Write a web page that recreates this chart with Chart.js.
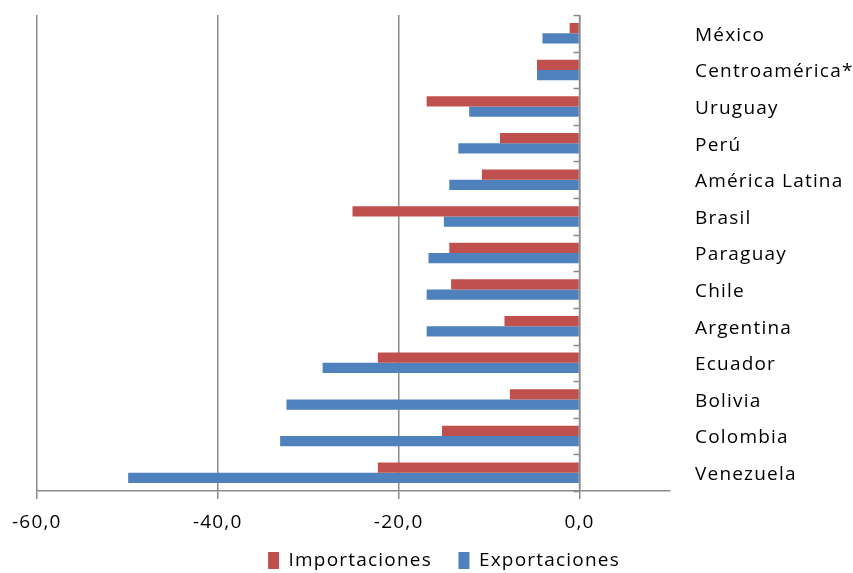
<!DOCTYPE html>
<html>
<head>
<meta charset="utf-8">
<script src="https://cdn.jsdelivr.net/npm/chart.js@4/dist/chart.umd.min.js"></script>
<style>
  html, body { margin: 0; padding: 0; background: #fff; }
  #wrap { width: 853px; height: 573px; }
</style>
</head>
<body>
<div id="wrap"><canvas id="chart" width="853" height="573"></canvas></div>
<script>
const paises = ['México', 'Centroamérica*', 'Uruguay', 'Perú', 'América Latina', 'Brasil',
    'Paraguay', 'Chile', 'Argentina', 'Ecuador', 'Bolivia', 'Colombia', 'Venezuela']
const importaciones = [-1.1, -4.7, -16.9, -8.8, -10.8, -25.1, -14.4, -14.2, -8.3, -22.3, -7.7, -15.2, -22.3]
const exportaciones = [-4.1, -4.7, -12.2, -13.4, -14.4, -15.0, -16.7, -16.9, -16.9, -28.4, -32.4, -33.1, -49.9]
const x_min = -60
const x_max = 10
const x_step = 20

const fuente = 'Open Sans'
const gris = '#8a8a8a'

// el texto del original es mas espaciado
const espaciado = {
    id: 'espaciado',
    beforeLayout(chart) { chart.ctx.letterSpacing = '1.2px' },
    beforeDraw(chart) { chart.ctx.letterSpacing = '1.2px' }
}

// eje vertical en 0 con sus marcas entre categorias
const ejeCero = {
    id: 'ejeCero',
    afterDatasetsDraw(chart) {
        const ctx = chart.ctx
        const x = chart.scales.x
        const y = chart.scales.y
        const x0 = x.getPixelForValue(0)
        const paso = y.getPixelForValue(1) - y.getPixelForValue(0)
        ctx.save()
        ctx.strokeStyle = gris
        ctx.lineWidth = 1.5
        ctx.beginPath()
        ctx.moveTo(x0, chart.chartArea.top)
        ctx.lineTo(x0, chart.chartArea.bottom)
        for (var i = 0; i <= paises.length; i++) {
            var yy = Math.round(y.getPixelForValue(0) + (i - 0.5) * paso) + 0.5
            ctx.moveTo(x0 - 6, yy)
            ctx.lineTo(x0, yy)
        }
        ctx.stroke()
        ctx.restore()
    }
}

new Chart(document.getElementById('chart'), {
    type: 'bar',
    data: {
        labels: paises,
        datasets: [{
            label: 'Importaciones',
            data: importaciones,
            backgroundColor: '#C0504D',
            borderWidth: 0
        }, {
            label: 'Exportaciones',
            data: exportaciones,
            backgroundColor: '#4F81BD',
            borderWidth: 0
        }]
    },
    options: {
        indexAxis: 'y',
        responsive: false,
        animation: false,
        categoryPercentage: 0.56,
        barPercentage: 1.0,
        // la leyenda baja un poco mas que el borde del canvas
        layout: { padding: { top: 15, left: 35, right: 0, bottom: -7 } },
        scales: {
            x: {
                min: x_min,
                max: x_max,
                ticks: {
                    stepSize: x_step,
                    color: '#000',
                    padding: 12,
                    maxRotation: 0,
                    font: { family: fuente, size: 19 },
                    callback: function(v) {
                        return v > 0 ? '' : v.toFixed(1).replace('.', ',')
                    }
                },
                grid: {
                    color: function(c) { return c.tick && c.tick.value > 0 ? 'rgba(0,0,0,0)' : gris },
                    lineWidth: 1.5,
                    tickLength: 8
                },
                border: { color: gris, width: 1.5 },
                afterFit: function(s) { s.height = 58 }
            },
            y: {
                position: 'right',
                ticks: {
                    color: '#000',
                    padding: 25,
                    labelOffset: 2,
                    font: { family: fuente, size: 19 }
                },
                grid: { display: false, drawTicks: false },
                border: { display: false },
                afterFit: function(s) {
                    s.width = 183
                    s.paddingTop = 0
                    s.paddingBottom = 0
                }
            }
        },
        plugins: {
            legend: {
                position: 'bottom',
                labels: {
                    color: '#000',
                    boxWidth: 11,
                    boxHeight: 17,
                    padding: 2,
                    font: { family: fuente, size: 19 },
                    generateLabels: function(chart) {
                        var items = Chart.defaults.plugins.legend.labels.generateLabels(chart)
                        // separacion entre items como en el original
                        items[0].text += '\u00a0\u00a0\u00a0\u00a0'
                        return items
                    }
                }
            },
            tooltip: { enabled: false }
        }
    },
    plugins: [espaciado, ejeCero]
});
</script>
</body>
</html>
